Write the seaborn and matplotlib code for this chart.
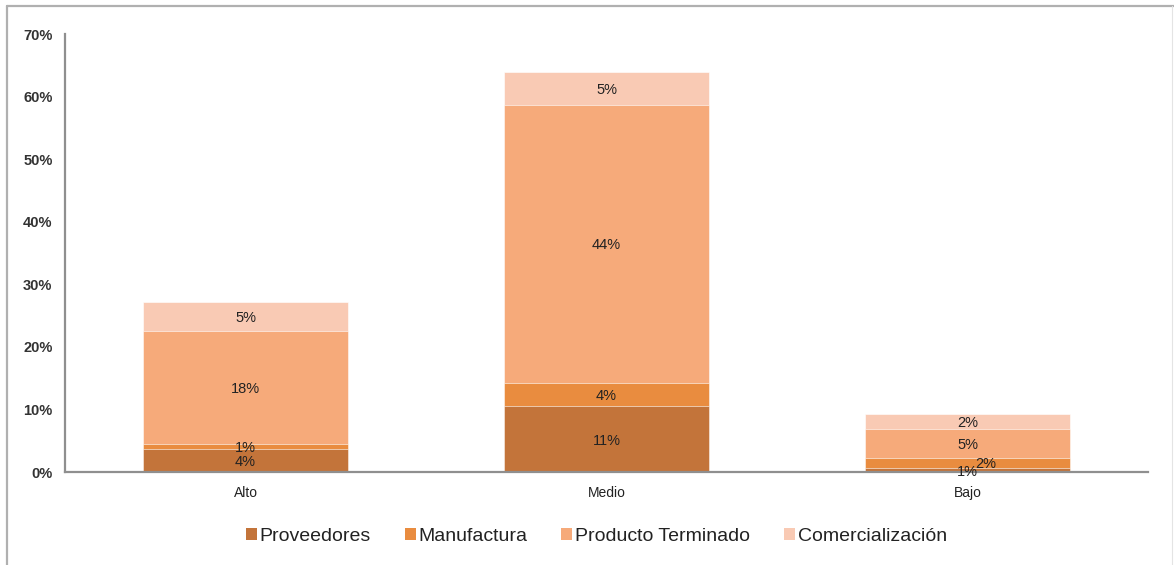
import matplotlib
matplotlib.use("Agg")
import matplotlib.pyplot as plt
from matplotlib.lines import Line2D
from matplotlib.patches import Patch
import numpy as np
import pandas as pd
import seaborn as sns

categories = ["Alto", "Medio", "Bajo"]
series = ["Proveedores", "Manufactura", "Producto Terminado", "Comercialización"]
proveedores = [3.7, 10.6, 0.7]
manufactura = [0.75, 3.7, 1.6]
producto_terminado = [18.1, 44.4, 4.6]
comercializacion = [4.6, 5.3, 2.4]
colors = ["#C3743A", "#E98C3F", "#F6AA7A", "#F9CAB4"]
y_ticks = [0, 10, 20, 30, 40, 50, 60, 70]

values = [proveedores, manufactura, producto_terminado, comercializacion]

sns.set_theme(style="white")
plt.rcParams["font.family"] = ["Liberation Sans", "DejaVu Sans"]

fig = plt.figure(figsize=(11.74, 5.65), dpi=100)
ax = fig.add_axes([65 / 1174, 1 - 472 / 565, (1148 - 65) / 1174, (472 - 34) / 565])

# cumulative tops, drawn from tallest down
cum = np.cumsum(np.array(values), axis=0)
for i in reversed(range(len(series))):
    df = pd.DataFrame({"cat": categories, "val": cum[i]})
    sns.barplot(data=df, x="cat", y="val", order=categories, color=colors[i],
                width=0.568, saturation=1, ax=ax, edgecolor="white",
                linewidth=0.4, errorbar=None)

# labels centered in segments
for i in range(len(series)):
    for j in range(len(categories)):
        v = values[i][j]
        bottom = cum[i][j] - v
        xoff = 0
        yoff = -1.3
        if categories[j] == "Bajo" and series[i] == "Manufactura":
            xoff = 13
        ax.annotate(f"{v:.0f}%", xy=(j, bottom + v / 2), xytext=(xoff, yoff),
                    textcoords="offset points", ha="center", va="center",
                    fontsize=10.5, color="#222222")

ax.set_xlim(-0.5, 2.5)
ax.set_ylim(0, 70)
ax.set_yticks(y_ticks)
ax.set_yticklabels([f"{t}%" for t in y_ticks], fontweight="bold")
ax.set_xlabel("")
ax.set_ylabel("")
ax.tick_params(axis="y", length=0, pad=9, labelsize=10.5, labelcolor="#333333")
ax.tick_params(axis="x", length=0, pad=10, labelsize=10, labelcolor="#222222")
for s in ["top", "right"]:
    ax.spines[s].set_visible(False)
for s in ["left", "bottom"]:
    ax.spines[s].set_color("#8f8f8f")
    ax.spines[s].set_linewidth(1.6)

handles = [Patch(facecolor=c, edgecolor="none") for c in colors]
fig.legend(handles, series, loc="center", bbox_to_anchor=(0.508, 0.051), ncol=4,
           frameon=False, fontsize=14, handlelength=0.55, handleheight=0.55,
           handletextpad=0.15, columnspacing=1.75, labelcolor="#222222")

# figure border (left, top, faint right)
fig.add_artist(Line2D([7 / 1174, 7 / 1174], [0, 1 - 6 / 565], transform=fig.transFigure,
                      color="#b0b0b0", linewidth=1.6))
fig.add_artist(Line2D([7 / 1174, 1], [1 - 6 / 565, 1 - 6 / 565], transform=fig.transFigure,
                      color="#b0b0b0", linewidth=1.6))
fig.add_artist(Line2D([1172 / 1174, 1172 / 1174], [0, 1 - 6 / 565], transform=fig.transFigure,
                      color="#e4e4e4", linewidth=0.8))

fig.savefig("out.png", dpi=100)
